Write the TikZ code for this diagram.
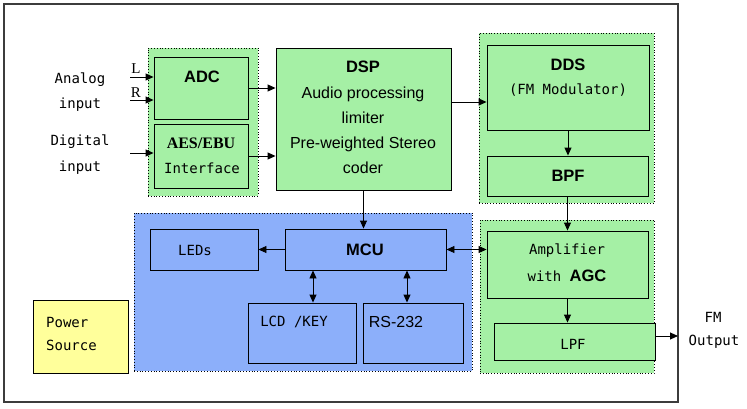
\documentclass[tikz,border=0pt]{standalone}
\usepackage{fontspec}
\setmainfont{Liberation Sans}
\newfontfamily\gothic{DejaVu Sans Mono}
\newfontfamily\tnr{Liberation Serif}
\usetikzlibrary{arrows.meta}
\definecolor{grn}{RGB}{165,240,165}
\definecolor{blu}{RGB}{140,175,250}
\definecolor{ylw}{RGB}{255,255,155}
\definecolor{frm}{RGB}{60,60,60}
\tikzset{
  frame/.style={draw=frm, line width=1.3pt, inner sep=0pt},
  grp/.style={draw=black, dotted, line width=0.8pt, fill=grn, inner sep=0pt},
  bgrp/.style={grp, fill=blu},
  box/.style={draw=black, line width=0.9pt, fill=grn, inner sep=0pt},
  bbox/.style={box, fill=blu},
  ybox/.style={box, fill=ylw},
  tip/.tip={Triangle[length=8pt,width=7pt]},
  arr/.style={-tip, line width=0.9pt},
  darr/.style={tip-tip, line width=0.9pt},
  mono/.style={font=\gothic\fontsize{14}{16}\selectfont, inner sep=0pt},
  sans/.style={font=\fontsize{16}{25}\selectfont, inner sep=0pt},
  ttl/.style={font=\bfseries\fontsize{16.5}{18}\selectfont, inner sep=0pt},
  serif/.style={font=\tnr\fontsize{15}{17}\selectfont, inner sep=0pt},
}
\begin{document}
\begin{tikzpicture}[x=1pt,y=-1pt]
\fill[white] (0,0) rectangle (747,408);
\useasboundingbox (0,0) rectangle (747,408);
% outer frame
\node[frame, minimum width=674pt, minimum height=398pt] (frame) at (341,203) {};
% groups
\node[grp, minimum width=110pt, minimum height=148pt] (gL) at (203,122) {};
\node[grp, minimum width=175pt, minimum height=170pt] (gR) at (566.5,118) {};
\node[bgrp, minimum width=338pt, minimum height=158pt] (gB) at (303,292) {};
\node[grp, minimum width=174pt, minimum height=153pt] (gA) at (567,296.5) {};
% boxes
\node[box, minimum width=94pt, minimum height=62pt] (ADC) at (201,88) {};
\node[box, minimum width=94pt, minimum height=64pt] (AES) at (201,156) {};
\node[box, minimum width=175pt, minimum height=142pt] (DSP) at (363.5,119) {};
\node[box, minimum width=162pt, minimum height=85pt] (DDS) at (568,87.5) {};
\node[box, minimum width=161pt, minimum height=40pt] (BPF) at (567.5,176) {};
\node[bbox, minimum width=108pt, minimum height=41pt] (LEDs) at (204,249.5) {};
\node[bbox, minimum width=161pt, minimum height=41pt] (MCU) at (365.5,249.5) {};
\node[bbox, minimum width=108pt, minimum height=60pt] (LCD) at (302,333) {};
\node[bbox, minimum width=100pt, minimum height=60pt] (RS) at (413,333) {};
\node[box, minimum width=161pt, minimum height=67pt] (AMP) at (567.5,264.5) {};
\node[box, minimum width=161pt, minimum height=37pt] (LPF) at (574.5,341.5) {};
\node[ybox, minimum width=95pt, minimum height=73pt] (PWR) at (80.5,336.5) {};
% coordinates for connector ends
\coordinate (inL) at (130,77);
\coordinate (inR) at (130,100);
\coordinate (inD) at (130,153);
\coordinate (dspout) at (451,102);
\coordinate (outFM) at (678,336);
\coordinate (lcdx) at (313,0);
\coordinate (rsx) at (407,0);
% connectors
\draw[arr] (inL) -- (inL -| ADC.west);
\draw[arr] (inR) -- (inR -| ADC.west);
\draw[arr] (inD) -- (inD -| AES.west);
\draw[arr] (ADC.east) -- (ADC.east -| DSP.west);
\draw[arr] (AES.east) -- (AES.east -| DSP.west);
\draw[arr] (dspout) -- (dspout -| DDS.west);
\draw[arr] (DDS.south) -- (DDS.south |- BPF.north);
\draw[arr] (BPF.south) -- (BPF.south |- AMP.north);
\draw[arr] (AMP.south) -- (AMP.south |- LPF.north);
\draw[arr] (LPF.east |- outFM) -- (outFM);
\draw[arr] (DSP.south) -- (DSP.south |- MCU.north);
\draw[arr] (MCU.west) -- (LEDs.east);
\draw[darr] (MCU.east) -- (MCU.east -| AMP.west);
\draw[darr] (lcdx |- MCU.south) -- (lcdx |- LCD.north);
\draw[darr] (rsx |- MCU.south) -- (rsx |- RS.north);
% texts
\node[mono] (tAna) at (80,80) {Analog};
\node[mono] (tAna2) at (80,105) {input};
\node[mono] (tDig) at (80,142) {Digital};
\node[mono] (tDig2) at (80,168) {input};
\node[serif] (tL) at (136,69) {L};
\node[serif] (tR) at (136,93) {R};
\node[ttl] (tADC) at (202,77) {ADC};
\node[serif, font=\tnr\bfseries\fontsize{16}{18}\selectfont] (tAES) at (201,143) {AES/EBU};
\node[mono] (tIf) at (202,168) {Interface};
\node[ttl] (tDSP) at (363,67) {DSP};
\node[sans, align=center] (tDSP2) at (363,130) {Audio processing\\limiter\\Pre-weighted Stereo\\coder};
\node[ttl] (tDDS) at (568,65) {DDS};
\node[mono] (tFMm) at (568,90) {(FM Modulator)};
\node[ttl] (tBPF) at (568,176) {BPF};
\node[ttl] (tMCU) at (365,250) {MCU};
\node[mono] (tLED) at (195,250) {LEDs};
\node[mono] (tLCD) at (294,322) {LCD /KEY};
\node[sans] (tRS) at (396,322) {RS-232};
\node[mono] (tAmp) at (567,251) {Amplifier};
\node[mono] (tAGC) at (567,276) {with {\fontspec{Liberation Sans}\bfseries\fontsize{16.5}{18}\selectfont AGC}};
\node[mono] (tLPF) at (573,344) {LPF};
\node[mono, anchor=west] (tPow) at (46,322) {Power};
\node[mono, anchor=west] (tSrc) at (46,345) {Source};
\node[mono] (tFM) at (713,317) {FM};
\node[mono] (tOut) at (714,342) {Output};
\end{tikzpicture}
\end{document}
